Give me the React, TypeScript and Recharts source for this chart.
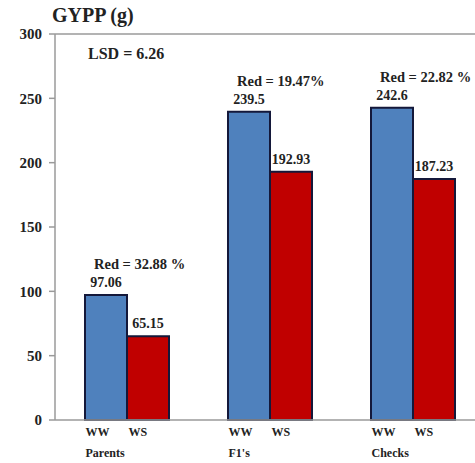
import { Bar, BarChart, LabelList, ReferenceLine, XAxis, YAxis } from 'recharts';

const FONT = '"Liberation Serif", "Times New Roman", serif';

const groups = ['Parents', "F1's", 'Checks'];
const wwValues = [97.06, 239.5, 242.6];
const wsValues = [65.15, 192.93, 187.23];
const reductionLabels = ['Red = 32.88 %', 'Red = 19.47%', 'Red = 22.82 %'];
const yTicks = [0, 50, 100, 150, 200, 250, 300];

const data = groups.map((group, i) => ({
  group,
  ww: wwValues[i],
  ws: wsValues[i],
  red: reductionLabels[i],
}));

function GroupTick({ x, y, payload }: any) {
  return (
    <g fontFamily={FONT} fontWeight="bold" fill="#222">
      <text x={x - 41} y={y + 16} fontSize={12}>
        WW
      </text>
      <text x={x + 2} y={y + 16} fontSize={12}>
        WS
      </text>
      <text x={x - 41} y={y + 37} fontSize={12}>
        {payload.value}
      </text>
    </g>
  );
}

function RedLabel({ x, y, value }: any) {
  return (
    <text
      x={x + 9}
      y={y - 26}
      fontFamily={FONT}
      fontWeight="bold"
      fontSize={14.5}
      fill="#222"
    >
      {value}
    </text>
  );
}

const valueLabelStyle = {
  fontFamily: FONT,
  fontWeight: 'bold',
  fontSize: 14,
  fill: '#222',
};

export default function App() {
  return (
    <div
      style={{
        position: 'fixed',
        left: 0,
        top: 0,
        width: 475,
        height: 463,
        overflow: 'hidden',
        background: '#fff',
      }}
    >
      <div
        style={{
          position: 'absolute',
          left: 52,
          top: 3,
          fontFamily: FONT,
          fontWeight: 'bold',
          fontSize: 20,
          lineHeight: '24px',
          color: '#222',
          zIndex: 1,
        }}
      >
        GYPP (g)
      </div>
      <div
        style={{
          position: 'absolute',
          left: 88,
          top: 45,
          fontFamily: FONT,
          fontWeight: 'bold',
          fontSize: 16,
          lineHeight: '18px',
          color: '#222',
          zIndex: 1,
        }}
      >
        LSD = 6.26
      </div>
      <BarChart
        width={490}
        height={463}
        data={data}
        margin={{ top: 34, right: 6, left: 0, bottom: 0 }}
        barCategoryGap={30}
        barGap={0}
      >
        <XAxis
          dataKey="group"
          height={43}
          tickLine={false}
          tickSize={0}
          tickMargin={0}
          axisLine={{ stroke: '#9a9a9a', strokeWidth: 1.5 }}
          tick={<GroupTick />}
          interval={0}
        />
        <YAxis
          width={55}
          domain={[0, 300]}
          ticks={yTicks}
          tickSize={6}
          tickMargin={7}
          axisLine={{ stroke: '#9a9a9a', strokeWidth: 1.5 }}
          tickLine={{ stroke: '#9a9a9a', strokeWidth: 1.5 }}
          tick={{ fontFamily: FONT, fontWeight: 'bold', fontSize: 15, fill: '#222' }}
        />
        <ReferenceLine y={300} stroke="#9a9a9a" strokeWidth={1.5} />
        <Bar
          dataKey="ww"
          fill="#4F81BD"
          stroke="#14183a"
          strokeWidth={2}
          isAnimationActive={false}
        >
          <LabelList dataKey="ww" position="top" offset={8} style={valueLabelStyle} />
          <LabelList dataKey="red" content={<RedLabel />} />
        </Bar>
        <Bar
          dataKey="ws"
          fill="#C00000"
          stroke="#14183a"
          strokeWidth={2}
          isAnimationActive={false}
        >
          <LabelList dataKey="ws" position="top" offset={8} style={valueLabelStyle} />
        </Bar>
      </BarChart>
    </div>
  );
}
